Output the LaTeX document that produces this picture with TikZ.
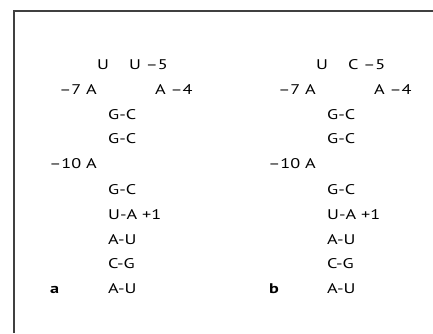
\documentclass[tikz,border=0pt]{standalone}
\usepackage{fontspec}
\setmainfont{PT Sans}[FakeStretch=1.3]
\begin{document}
\begin{tikzpicture}[x=1pt, y=-1pt,
    base/.style={inner sep=0pt, anchor=base west, font=\fontsize{14}{16}\selectfont},
    lbase/.style={base, anchor=base east},
    tag/.style={base, font=\fontsize{14}{16}\selectfont\bfseries}]
    \useasboundingbox (0,0) rectangle (433,333);
    % frame
    \draw[line width=1.2pt, black!75] (433,11) -- (14,11) -- (14,333);
    % the two hairpins
    \foreach \p/\dx/\nt in {a/0/U, b/219/C} {
        \begin{scope}[xshift=\dx]
        \node[base] (\p-u) at (97,69) {U};
        \node[base] (\p-m5) at (129,69) {\nt\ –5};
        \node[lbase] (\p-m7) at (97,94) {–7 A};
        \node[base] (\p-m4) at (155,94) {A –4};
        \node[base] (\p-s1) at (108,119) {G-C};
        \node[base] (\p-s2) at (108,143) {G-C};
        \node[lbase] (\p-m10) at (97,168) {–10 A};
        \node[base] (\p-s3) at (108,194) {G-C};
        \node[base] (\p-s4) at (108,219) {U-A +1};
        \node[base] (\p-s5) at (108,244) {A-U};
        \node[base] (\p-s6) at (108,268) {C-G};
        \node[base] (\p-s7) at (108,293) {A-U};
        \node[tag] (\p-tag) at (50,293) {\p};
        \end{scope}
    }
\end{tikzpicture}
\end{document}
